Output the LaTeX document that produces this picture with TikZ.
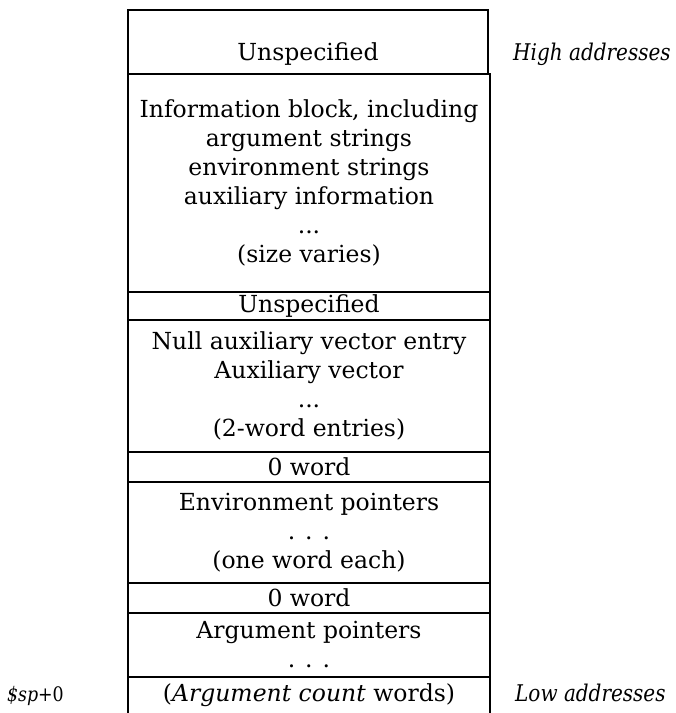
\documentclass[tikz,border=0pt]{standalone}
\usepackage{fontspec}
\setmainfont{DejaVu Serif}
\newfontfamily\sidefont[FakeStretch=0.87]{DejaVu Serif}
\usepackage{tikz}
\usetikzlibrary{positioning}
\tikzstyle{cell} = [rectangle, draw=black, line width=1.2pt, text=black, align=center, font=\fontsize{23.5}{29}\selectfont, minimum width=362pt, inner sep=0pt, outer sep=0pt]
\tikzstyle{opencell} = [rectangle, text=black, align=center, font=\fontsize{23.5}{29}\selectfont, minimum width=362pt, inner sep=0pt, outer sep=0pt]
\tikzstyle{side} = [text=black, font=\sidefont\fontsize{23}{28}\selectfont\itshape, inner sep=0pt]
\tikzstyle{wall} = [draw=black, line width=1.2pt]

\begin{document}
\begin{tikzpicture}

\useasboundingbox (0pt,0pt) rectangle (676pt,-713pt);

% stack cells =============================

% high end
\node[cell, minimum width=360pt, minimum height=64pt, text height=40pt, text depth=4pt] (unspec1) at (308pt,-42pt) {Unspecified};
\node[cell, minimum height=218pt, below=0pt of unspec1, xshift=1pt] (info) {Information block, including\\argument strings\\environment strings\\auxiliary information\\...\\(size varies)};
\node[cell, minimum height=28pt, below=0pt of info] (unspec2) {Unspecified};

% auxiliary vector
\node[cell, minimum height=132pt, below=0pt of unspec2] (auxv) {Null auxiliary vector entry\\Auxiliary vector\\...\\(2-word entries)};
\node[cell, minimum height=30pt, below=0pt of auxv] (zero1) {0 word};

% environment
\node[cell, minimum height=101pt, below=0pt of zero1] (envp) {Environment pointers\\. . .\\(one word each)};
\node[cell, minimum height=30pt, below=0pt of envp] (zero2) {0 word};

% arguments
\node[cell, minimum height=64pt, below=0pt of zero2] (argp) {Argument pointers\\. . .};
\node[opencell, minimum height=36pt, below=0pt of argp] (argc) {(\textit{Argument count} words)};

% side labels
\node[side, anchor=base west] (high) at ([xshift=25pt]unspec1.base east) {High addresses};
\node[side, anchor=base west] (low) at ([xshift=25pt]argc.base east) {Low addresses};
\node[side, anchor=base east, font=\sidefont\fontsize{20}{24}\selectfont\itshape] (sp) at ([xshift=-64pt]argc.base west) {\$sp\upshape+0};

% open bottom
\path[wall] ([yshift=-4pt]argc.south west) -- (argc.north west) -- (argc.north east) -- ([yshift=-4pt]argc.south east);

\end{tikzpicture}
\end{document}
